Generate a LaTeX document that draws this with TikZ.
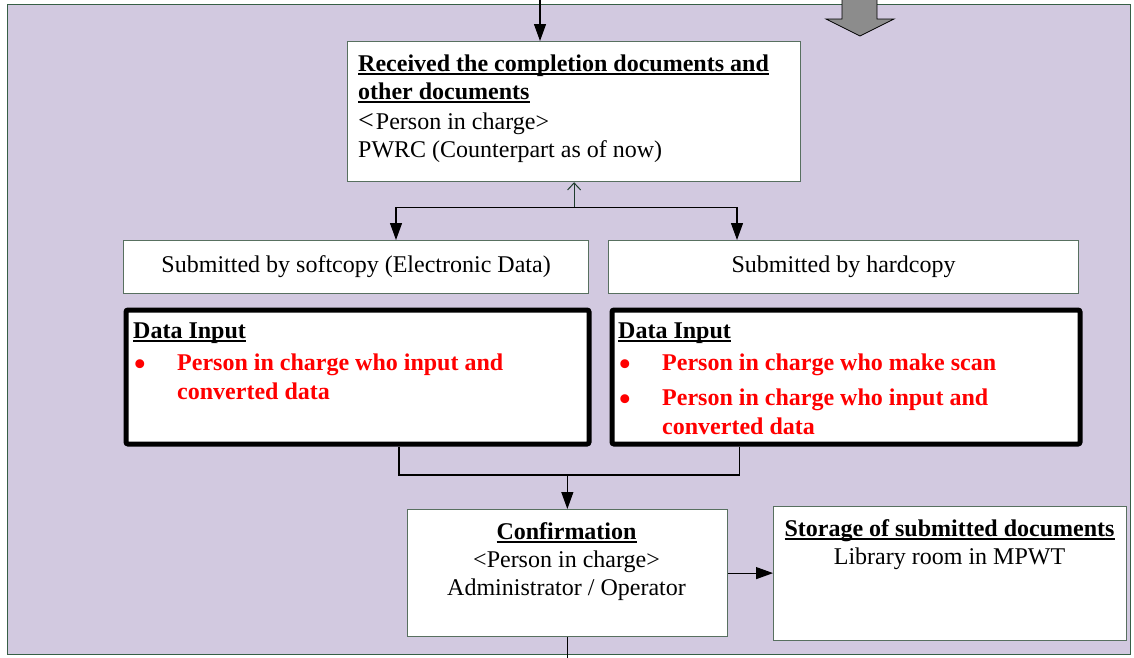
\documentclass[tikz,border=0pt]{standalone}
\usepackage{fontspec}
\setmainfont{Liberation Serif}
\usetikzlibrary{arrows.meta,calc}
\definecolor{lav}{RGB}{210,201,224}
\definecolor{edgec}{RGB}{88,112,96}
\definecolor{framec}{RGB}{55,95,70}
\definecolor{grayarrow}{RGB}{140,140,140}
\definecolor{redtxt}{RGB}{255,0,0}
\definecolor{greenln}{RGB}{30,60,45}
\newcommand\myul[1]{\setbox0\hbox{#1}\rlap{\rule[-3.6pt]{\wd0}{1.4pt}}\box0}
\begin{document}
\begin{tikzpicture}[x=1pt,y=-1pt,
  framebox/.style={draw=framec, line width=1.2pt, fill=lav, inner sep=0pt, anchor=north west},
  box/.style={draw=edgec, line width=1.2pt, fill=white, inner sep=0pt, anchor=north west},
  thickbox/.style={draw=black, line width=5pt, rounded corners=2pt, fill=white, inner sep=0pt, anchor=north west},
  txt/.style={inner sep=0pt, font=\fontsize{24}{29}\selectfont},
  redb/.style={inner sep=0pt, text=redtxt, font=\fontsize{24}{29}\selectfont\bfseries},
  bul/.style={inner sep=0pt, text=redtxt, anchor=base, font=\fontsize{24}{29}\selectfont},
  conn/.style={draw=black, line width=1.1pt},
  tri/.style={-{Triangle[length=17pt,width=12pt]}},
  barb/.style={{Straight Barb[length=7pt,width=13pt]}-}
]
\useasboundingbox (0,0) rectangle (1134,657);
\fill[white] (0,0) rectangle (1134,657);
\node[framebox, minimum width=1123pt, minimum height=650pt] (frame) at (7,4) {};

% big gray arrow
\draw[fill=grayarrow, draw=black, line width=0.8pt] (842,-2) -- (842,19) -- (826,19) -- (860,36) -- (894,19) -- (877,19) -- (877,-2);

% boxes
\node[box, minimum width=453pt, minimum height=140pt] (top) at (347,41) {};
\node[box, minimum width=465pt, minimum height=53pt] (soft) at (123,240) {\fontsize{24}{29}\selectfont Submitted by softcopy (Electronic Data)};
\node[box, minimum width=470pt, minimum height=53pt] (hard) at (608,240) {\fontsize{24}{29}\selectfont Submitted by hardcopy};
\node[thickbox, minimum width=463pt, minimum height=134pt] (dataL) at (123.5,307.5) {};
\node[thickbox, minimum width=468pt, minimum height=134pt] (dataR) at (609.5,307.5) {};
\node[box, minimum width=320.5pt, minimum height=127pt] (conf) at (406.5,509) {};
\node[box, minimum width=353pt, minimum height=134pt] (stor) at (773,505.5) {};

% top box text
\node[txt, anchor=base west] (t1) at (358,71) {\myul{\bfseries Received the completion documents and}};
\node[txt, anchor=base west] (t2) at (358,99) {\myul{\bfseries other documents}};
\node[txt, anchor=base west] (t3) at (358,129) {{\fontsize{28}{29}\selectfont<}\kern2pt Person in charge>};
\node[txt, anchor=base west] (t4) at (358,157) {PWRC (Counterpart as of now)};

% data input left
\node[txt, anchor=base west] (dl1) at (133,338) {\myul{\bfseries Data Input}};
\node[bul] (dlb1) at (140,376) {\scalebox{1.55}{•}};
\node[redb, anchor=base west] (dl2) at (177,370) {Person in charge who input and};
\node[redb, anchor=base west] (dl3) at (177,399) {converted data};

% data input right
\node[txt, anchor=base west] (dr1) at (618,338) {\myul{\bfseries Data Input}};
\node[bul] (drb1) at (625,376) {\scalebox{1.55}{•}};
\node[redb, anchor=base west] (dr2) at (662,370) {Person in charge who make scan};
\node[bul] (drb2) at (625,411) {\scalebox{1.55}{•}};
\node[redb, anchor=base west] (dr3) at (662,405) {Person in charge who input and};
\node[redb, anchor=base west] (dr4) at (662,434) {converted data};

% confirmation
\node[txt, anchor=base] (c1) at (566.5,539) {\myul{\bfseries Confirmation}};
\node[txt, anchor=base] (c2) at (566.5,567) {<Person in charge>};
\node[txt, anchor=base] (c3) at (566.5,595) {Administrator / Operator};

% storage
\node[txt, anchor=base] (s1) at (949.5,536) {\myul{\bfseries Storage of submitted documents}};
\node[txt, anchor=base] (s2) at (949.5,564) {Library room in MPWT};

% connectors
\coordinate (inTop) at (540,0);
\draw[conn,tri] (inTop) -- (inTop |- top.north);
\coordinate (split) at ($(top.south)+(0,25)$);
\draw[draw=greenln, line width=1pt, barb] (top.south) -- (split);
\draw[conn,tri] (split) -| ([xshift=273pt]soft.north west);
\draw[conn,tri] (split) -| ([xshift=129pt]hard.north west);

\coordinate (merge) at ($(conf.north)+(0,-34)$);
\draw[conn] ([xshift=275.5pt]dataL.south west) |- (merge) -| ([xshift=130pt]dataR.south west);
\draw[conn,tri] (merge) -- (conf.north);
\draw[conn,tri] (conf.east) -- (stor.west |- conf.east);
\coordinate (outB) at ($(conf.south)+(0,25)$);
\draw[conn] (conf.south) -- (outB);
\end{tikzpicture}
\end{document}
